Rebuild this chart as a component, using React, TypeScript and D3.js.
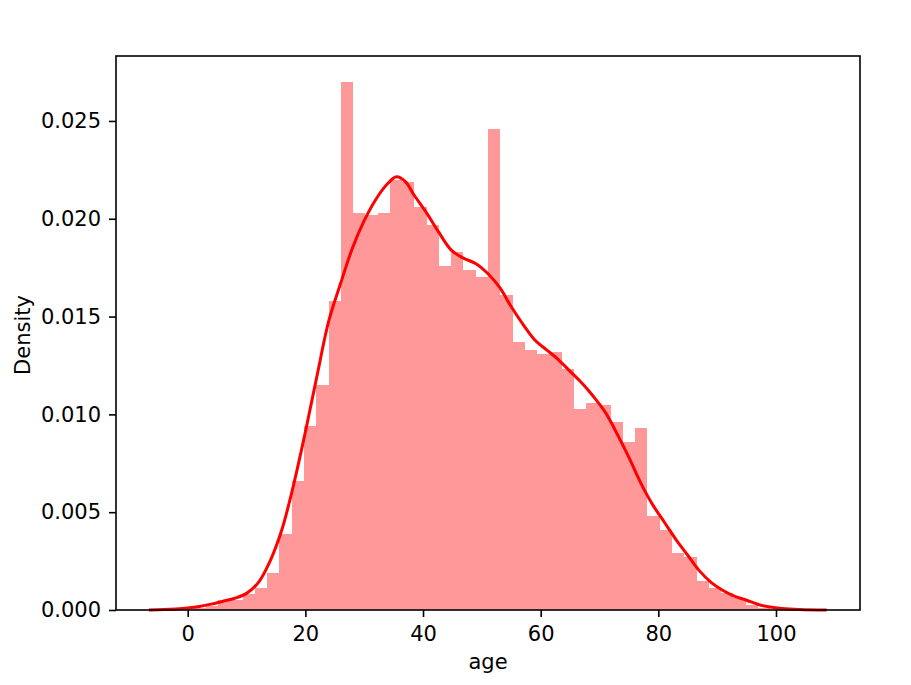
import * as d3 from 'd3';
import { useEffect, useRef } from 'react';

// histogram bin edges (age) and bar heights (density)
const binEdges = [
  1.0, 3.09, 5.17, 7.26, 9.34, 11.43, 13.51, 15.6, 17.68, 19.77, 21.85, 23.94,
  26.02, 28.11, 30.19, 32.28, 34.36, 36.45, 38.53, 40.62, 42.7, 44.79, 46.87,
  48.96, 51.04, 53.13, 55.21, 57.3, 59.38, 61.47, 63.55, 65.64, 67.72, 69.81,
  71.89, 73.98, 76.06, 78.15, 80.23, 82.32, 84.4, 86.49, 88.57, 90.66, 92.74,
  94.83, 96.91, 99.0,
];

const binDensity = [
  0.00012, 0.0002, 0.0005, 0.0005, 0.0008, 0.0011, 0.0019, 0.0039, 0.0066,
  0.0094, 0.0115, 0.0158, 0.027, 0.0203, 0.0202, 0.0203, 0.022, 0.0219,
  0.0206, 0.0197, 0.0176, 0.0183, 0.0174, 0.017, 0.0246, 0.0161, 0.0137,
  0.0133, 0.0131, 0.0132, 0.0123, 0.0103, 0.0106, 0.0105, 0.0096, 0.0086,
  0.0093, 0.0048, 0.0041, 0.0029, 0.0027, 0.0015, 0.0011, 0.00085, 0.0006,
  0.00026, 0.0001,
];

// kde curve
const kdeAge = [
  -6.6, -4, -2, 0, 2, 4, 6, 8, 10, 12, 14, 16, 18, 20, 22, 24, 26, 28, 30, 32,
  34, 35.5, 37, 38.5, 40.6, 42.7, 44.8, 46.8, 49, 51, 53, 55, 57, 59, 61, 63,
  65, 67, 69, 71, 73, 75, 77, 79, 81, 83, 85, 87, 89, 91, 93, 95, 97, 99, 101,
  104, 108.6,
];

const kdeDensity = [
  0.0, 0.00002, 0.00005, 0.0001, 0.00018, 0.0003, 0.00045, 0.0006, 0.00085,
  0.0014, 0.0025, 0.0041, 0.0064, 0.0091, 0.012, 0.0148, 0.0167, 0.0185,
  0.0199, 0.021, 0.0218, 0.02215, 0.0219, 0.0212, 0.0203, 0.0193, 0.0184,
  0.018, 0.0177, 0.0172, 0.0165, 0.0155, 0.0146, 0.0138, 0.0133, 0.0128,
  0.0122, 0.0116, 0.0109, 0.0101, 0.009, 0.0078, 0.0065, 0.0054, 0.0045,
  0.0036, 0.0028, 0.002, 0.0014, 0.001, 0.0007, 0.0005, 0.00028, 0.00015,
  0.00008, 0.00003, 0.0,
];

const xTicks = [0, 20, 40, 60, 80, 100];
const yTicks = [0, 0.005, 0.01, 0.015, 0.02, 0.025];

const font = 'DejaVu Sans, sans-serif';
const fontSize = 21;

const App = () => {
  const ref = useRef<SVGSVGElement | null>(null);
  const width = 911;
  const height = 685;
  const margin = { left: 116, right: 51, top: 56, bottom: 75 };

  useEffect(() => {
    if (!ref.current) return;
    const svg = d3.select(ref.current);
    svg.selectAll('*').remove();

    const x = d3
      .scaleLinear()
      .domain([-12.19, 114.28])
      .range([margin.left, width - margin.right]);
    const y = d3
      .scaleLinear()
      .domain([0, 0.02832])
      .range([height - margin.bottom, margin.top]);

    // bars
    svg
      .append('g')
      .selectAll('rect')
      .data(binDensity)
      .join('rect')
      .attr('x', (_, i) => x(binEdges[i]))
      .attr('width', (_, i) => x(binEdges[i + 1]) - x(binEdges[i]))
      .attr('y', (d) => y(d))
      .attr('height', (d) => y(0) - y(d))
      .attr('fill', '#ff9999')
      .attr('shape-rendering', 'crispEdges');

    // kde
    const line = d3
      .line<number>()
      .x((_, i) => x(kdeAge[i]))
      .y((d) => y(d))
      .curve(d3.curveCatmullRom);

    svg
      .append('path')
      .datum(kdeDensity)
      .attr('d', line)
      .attr('fill', 'none')
      .attr('stroke', 'red')
      .attr('stroke-width', 3)
      .attr('stroke-linejoin', 'round');

    // spines
    svg
      .append('rect')
      .attr('x', margin.left)
      .attr('y', margin.top)
      .attr('width', width - margin.left - margin.right)
      .attr('height', height - margin.top - margin.bottom)
      .attr('fill', 'none')
      .attr('stroke', 'black')
      .attr('stroke-width', 1.6);

    const xAxis = svg
      .append('g')
      .attr('transform', `translate(0,${height - margin.bottom})`)
      .call(
        d3
          .axisBottom(x)
          .tickValues(xTicks)
          .tickSize(7)
          .tickPadding(9.5)
          .tickFormat(d3.format('d'))
      );
    xAxis.select('.domain').remove();
    xAxis.selectAll('.tick line').attr('stroke', 'black').attr('stroke-width', 1.6);
    xAxis
      .selectAll('text')
      .attr('font-family', font)
      .attr('font-size', fontSize)
      .attr('fill', 'black');

    const yAxis = svg
      .append('g')
      .attr('transform', `translate(${margin.left},0)`)
      .call(
        d3
          .axisLeft(y)
          .tickValues(yTicks)
          .tickSize(7)
          .tickPadding(8)
          .tickFormat(d3.format('.3f'))
      );
    yAxis.select('.domain').remove();
    yAxis.selectAll('.tick line').attr('stroke', 'black').attr('stroke-width', 1.6);
    yAxis
      .selectAll('text')
      .attr('font-family', font)
      .attr('font-size', fontSize)
      .attr('fill', 'black');

    svg
      .append('text')
      .attr('x', (margin.left + width - margin.right) / 2)
      .attr('y', 669)
      .attr('text-anchor', 'middle')
      .attr('font-family', font)
      .attr('font-size', fontSize)
      .attr('fill', 'black')
      .text('age');

    svg
      .append('text')
      .attr('transform', `translate(30,${(margin.top + height - margin.bottom) / 2 + 2}) rotate(-90)`)
      .attr('text-anchor', 'middle')
      .attr('font-family', font)
      .attr('font-size', fontSize)
      .attr('fill', 'black')
      .text('Density');
  }, []);

  return (
    <svg
      ref={ref}
      width={width}
      height={height}
      style={{ position: 'absolute', left: 0, top: 0, background: 'white' }}
    />
  );
};

export default App;
